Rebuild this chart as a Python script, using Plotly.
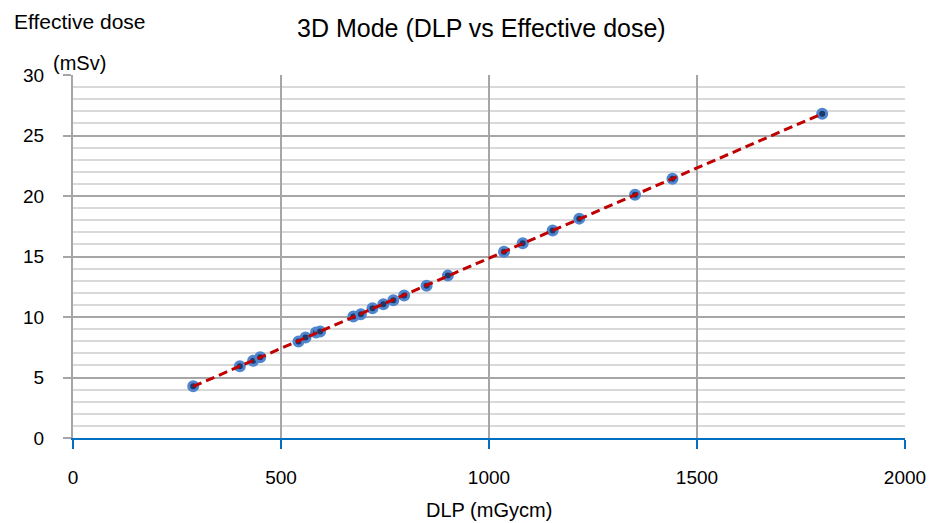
import numpy as np
import plotly.graph_objects as go

# Data
dlp = [289, 401, 433, 450, 542, 559, 584, 594, 674, 692, 720, 746, 770, 796,
       850, 901, 1036, 1081, 1153, 1217, 1351, 1441, 1801]
eff_dose = [4.28, 5.93, 6.39, 6.67, 7.98, 8.31, 8.72, 8.81, 10.04, 10.23, 10.72,
            11.05, 11.38, 11.77, 12.59, 13.42, 15.39, 16.09, 17.14, 18.13, 20.11,
            21.42, 26.80]

x_ticks = [0, 500, 1000, 1500, 2000]
y_ticks = [0, 5, 10, 15, 20, 25, 30]

title_text = "3D Mode (DLP vs Effective dose)"
x_title = "DLP (mGycm)"
y_title = "Effective dose"
y_unit = "(mSv)"

# Linear trendline (Excel-style) fitted to the data
k, b0 = np.polyfit(dlp, eff_dose, 1)
tx = [min(dlp), max(dlp)]
ty = [k * v + b0 for v in tx]

FONT = "Liberation Sans, Arial, sans-serif"
W, H = 934, 523
L, R, T, B = 73, 29, 75, 85
PW, PH = W - L - R, H - T - B


def px(xp):
    return (xp - L) / PW


def py(yp):
    return ((H - B) - yp) / PH


fig = go.Figure()
fig.add_trace(go.Scatter(
    x=dlp, y=eff_dose, mode="markers",
    marker=dict(size=9, color="#1F3868", line=dict(color="#4F86CF", width=3)),
    showlegend=False, hoverinfo="x+y"))
fig.add_trace(go.Scatter(
    x=tx, y=ty, mode="lines",
    line=dict(color="#C00000", width=3, dash="9px,5px"),
    showlegend=False, hoverinfo="skip"))

fig.update_layout(
    width=W, height=H,
    margin=dict(l=L, r=R, t=T, b=B, autoexpand=False),
    paper_bgcolor="white", plot_bgcolor="white",
    font=dict(family=FONT, size=19, color="#000000"),
    xaxis=dict(
        range=[0, 2000], tickvals=x_ticks, ticktext=[str(v) for v in x_ticks],
        showgrid=True, gridcolor="#A6A6A6", gridwidth=2,
        showline=True, linecolor="#0070C0", linewidth=2,
        ticks="outside", ticklen=9, tickwidth=2, tickcolor="#0070C0",
        ticklabelstandoff=12,
        zeroline=False, fixedrange=True,
        tickfont=dict(family=FONT, size=19, color="#000000"),
    ),
    yaxis=dict(
        range=[0, 30], tickvals=y_ticks, ticktext=[str(v) for v in y_ticks],
        showgrid=True, gridcolor="#A6A6A6", gridwidth=2,
        minor=dict(dtick=1, showgrid=True, gridcolor="#D9D9D9", gridwidth=2),
        showline=True, linecolor="#A6A6A6", linewidth=2,
        ticks="outside", ticklen=8, tickwidth=2, tickcolor="#A6A6A6",
        ticklabelstandoff=15,
        zeroline=False, fixedrange=True,
        tickfont=dict(family=FONT, size=19, color="#000000"),
    ),
)

fig.add_annotation(text=title_text, xref="paper", yref="paper",
                   x=px(481), y=py(28), xanchor="center", yanchor="middle",
                   showarrow=False, font=dict(family=FONT, size=25, color="#000000"))
fig.add_annotation(text=y_title, xref="paper", yref="paper",
                   x=px(12), y=py(22), xanchor="left", yanchor="middle",
                   showarrow=False, font=dict(family=FONT, size=21, color="#000000"))
fig.add_annotation(text=y_unit, xref="paper", yref="paper",
                   x=px(51), y=py(63), xanchor="left", yanchor="middle",
                   showarrow=False, font=dict(family=FONT, size=20, color="#000000"))
fig.add_annotation(text=x_title, xref="paper", yref="paper",
                   x=px(489), y=py(510), xanchor="center", yanchor="middle",
                   showarrow=False, font=dict(family=FONT, size=20, color="#000000"))

fig.write_html("out.html",
               config={"displayModeBar": False},
               post_script="document.body.style.margin='0px';document.body.style.overflow='hidden';")
